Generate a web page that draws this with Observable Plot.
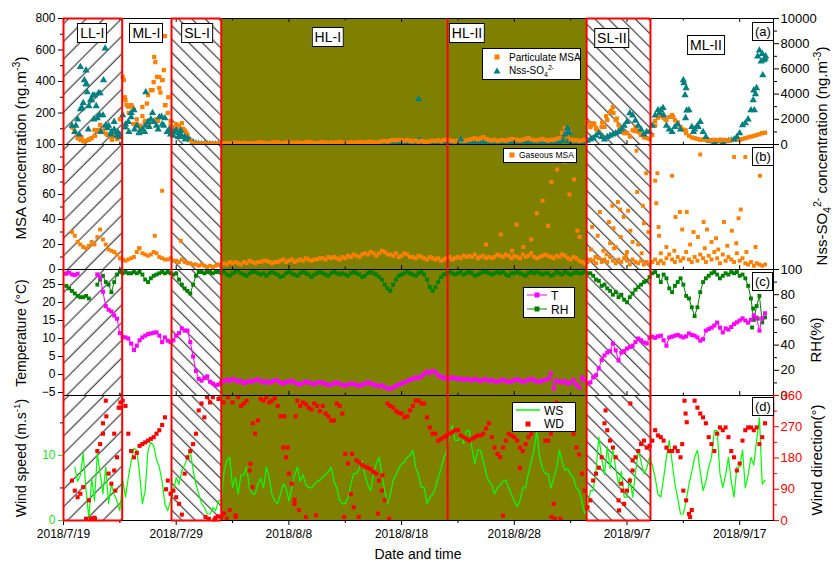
<!DOCTYPE html>
<html><head><meta charset="utf-8">
<script src="https://cdn.jsdelivr.net/npm/d3@7"></script>
<script src="https://cdn.jsdelivr.net/npm/@observablehq/plot@0.6"></script>
<style>
html,body{margin:0;padding:0;background:#fff;}
body{font-family:"Liberation Sans",Arial,Helvetica,sans-serif;color:#000;}
#chart{position:relative;width:833px;height:565px;overflow:hidden;background:#fff;}
.panel{position:absolute;left:0;}
.panel svg{overflow:visible;}
.tag{position:absolute;background:#fff;border:1px solid #000;font-size:14px;line-height:16px;padding:1px 2px;white-space:nowrap;transform:translateX(-50%);}
.ptag{position:absolute;background:#fff;border:1px solid #000;font-size:13px;line-height:15px;padding:1px 2px;}
.legend{position:absolute;background:#fff;border:1px solid #000;}
.legend .row{position:absolute;white-space:nowrap;line-height:1;}
.legend svg{position:absolute;}
.vt{position:absolute;white-space:nowrap;font-size:14px;transform:translate(-50%,-50%) rotate(-90deg);}
.xt{position:absolute;font-size:14px;transform:translateX(-50%);white-space:nowrap;}
sup,sub{font-size:70%;line-height:0;}
</style></head>
<body>
<svg width="0" height="0" style="position:absolute;left:0;top:0">
<defs>
<pattern id="hatchL" patternUnits="userSpaceOnUse" width="12.5" height="12.5" patternTransform="rotate(45)">
<rect width="12.5" height="12.5" fill="#fff"/>
<line x1="6" y1="0" x2="6" y2="12.5" stroke="#000" stroke-width="0.9"/>
</pattern>
<pattern id="hatchR" patternUnits="userSpaceOnUse" width="9.5" height="9.5" patternTransform="rotate(-45)">
<rect width="9.5" height="9.5" fill="#fff"/>
<line x1="4.5" y1="0" x2="4.5" y2="9.5" stroke="#000" stroke-width="0.9"/>
</pattern>
</defs></svg>
<div id="chart"></div>
<script>
// ---------------- DATA ----------------
const regions = [
  {name: "LL-I",  start: "2018-07-19T00:00Z", end: "2018-07-24T05:00Z", fill: "hatchL"},
  {name: "ML-I",  start: "2018-07-24T05:00Z", end: "2018-07-28T14:00Z", fill: null},
  {name: "SL-I",  start: "2018-07-28T14:00Z", end: "2018-08-02T00:00Z", fill: "hatchR"},
  {name: "HL-I",  start: "2018-08-02T00:00Z", end: "2018-08-22T02:00Z", fill: "olive"},
  {name: "HL-II", start: "2018-08-22T02:00Z", end: "2018-09-03T10:00Z", fill: "olive"},
  {name: "SL-II", start: "2018-09-03T10:00Z", end: "2018-09-09T02:00Z", fill: "hatchR"},
  {name: "ML-II", start: "2018-09-09T02:00Z", end: "2018-09-20T00:00Z", fill: null}
];
const xMajor = ["2018-07-19","2018-07-29","2018-08-08","2018-08-18","2018-08-28","2018-09-07","2018-09-17"];
const xMinor = ["2018-07-24","2018-08-03","2018-08-13","2018-08-23","2018-09-02","2018-09-12"];
const msaTicks = [200,400,600,800], msaMinor = [100,300,500,700];
const nssTicks = [0,2000,4000,6000,8000,10000], nssMinor = [1000,3000,5000,7000,9000];
const gmsaTicks = [0,20,40,60,80,100], gmsaMinor = [10,30,50,70,90];
const tTicks = [-5,0,5,10,15,20,25];
const rhTicks = [0,20,40,60,80,100], rhMinor = [10,30,50,70,90];
const wsTicks = [0,10], wsMinor = [5,15];
const wdTicks = [0,90,180,270,360], wdMinor = [45,135,225,315];

// Series sampled every 6 h from 2018-07-19 00:00 (one row = one day)
const pmsa = [
 [null,null,null,110],[80,40,30,20],[25,30,40,92],[92,124,90,70],[60,45,55,35],
 [160,430,280,240],[250,220,130,110],[238,150,313,345],[396,160,428,409],[250,200,120,110],
 [130,110,135,90],[60,28,10,6],[5,5,6,5],[5,4,5,5],[6,8,10,9],
 [10,12,11,9],[12,10,8,11],[9,12,14,11],[10,8,12,15],[13,10,9,12],
 [14,11,10,13],[12,10,14,16],[13,11,9,12],[15,12,10,14],[11,13,16,12],
 [10,12,14,11],[13,16,14,12],[15,18,14,12],[16,20,22,18],[24,28,26,30],
 [27,24,28,22],[20,25,18,22],[18,15,20,24],[22,26,20,28],[30,25,22,20],
 [24,28,22,26],[30,35,40,32],[38,47,35,28],[25,30,22,26],[28,24,30,35],
 [32,28,25,30],[35,40,32,28],[26,30,35,28],[25,30,28,35],[40,73,104,50],
 [30,25,28,22],[25,30,140,110],[135,105,80,112],[112,155,205,238],[155,125,80,72],
 [72,50,90,112],[80,60,45,40],[35,60,120,170],[187,170,155,175],[187,155,130,112],
 [95,72,55,45],[40,35,30,32],[30,28,25,30],[28,25,30,27],[25,28,30,32],
 [30,35,40,45],[50,55,60,65],[72,75,null,null]
];
const nss = [
 [null,null,null,1500],[1000,2000,2800,3300],[4780,3050,3520,3900],[2100,4070,2330,1500],[1500,1000,1200,700],
 [800,2330,1350,1800],[2170,2730,1500,1000],[1200,1500,1800,2000],[1800,1500,2170,1600],[2090,1000,800,700],
 [1150,900,700,600],[500,350,200,100],[60,50,40,30],[40,35,30,35],[40,50,60,50],
 [45,70,55,40],[60,50,80,60],[50,45,60,70],[60,70,50,45],[55,70,60,55],
 [50,45,60,70],[70,60,55,50],[60,70,80,60],[55,50,60,70],[70,60,55,60],
 [70,75,60,55],[55,60,70,65],[60,70,75,60],[70,80,65,60],[75,85,70,80],
 [90,80,100,85],[110,130,120,100],[90,100,80,70],[70,80,90,80],[100,110,130,110],
 [150,400,140,120],[110,300,120,110],[100,95,110,120],[110,100,120,130],[120,110,100,130],
 [140,125,115,110],[120,135,110,100],[115,130,145,125],[110,120,130,150],[170,300,800,250],
 [130,110,100,95],[200,300,300,400],[500,700,900,600],[400,600,700,800],[900,1000,1200,1500],
 [1800,2490,2300,1900],[1500,1200,800,1000],[1000,1500,2300,2730],[2730,2330,1500,1200],[1000,1400,1600,1200],
 [5100,4480,2730,1400],[1200,1500,1800,1000],[600,300,250,200],[250,300,200,250],[300,350,400,600],
 [900,1540,1700,2000],[2730,4300,4480,7470],[7200,6820,null,null]
];
const gmsa = [
 [null,null,null,30],[27,22,20,18],[17,19,22,20],[26,32,24,20],[16,15,14,12],
 [9,8,7,8],[9,10,14,17],[13,12,11,12],[14,13,10,9],[8,8,9,7],
 [7,6,8,6],[5,5,4,4],[3,4,3,2],[3,2,3,4],[4,5,4,6],
 [5,6,5,4],[6,5,7,6],[5,6,6,7],[7,6,5,6],[6,7,8,6],
 [7,8,6,7],[8,7,9,8],[7,8,8,9],[9,8,10,9],[10,9,8,10],
 [9,11,10,12],[11,10,12,13],[12,14,13,11],[13,15,14,12],[12,11,13,10],
 [11,13,12,10],[10,9,11,10],[9,8,10,9],[8,9,7,8],[9,10,8,9],
 [10,9,11,10],[11,10,12,9],[10,11,9,10],[9,10,12,11],[10,12,11,9],
 [11,10,9,12],[10,11,13,10],[9,10,11,12],[11,10,9,11],[10,12,11,9],
 [8,10,9,7],[6,5,6,8],[7,5,9,6],[8,6,10,7],[5,8,6,9],
 [7,4,8,6],[5,7,4,6],[4,6,8,5],[7,5,9,12],[8,6,10,7],
 [9,14,8,6],[10,7,12,9],[6,11,8,14],[9,5,12,7],[10,8,6,13],
 [7,9,5,4],[6,3,5,4],[3,4,null,null]
];
const temp = [
 [null,28,28.3,27.8],[27.6,28,null,null],[null,null,null,null],[27.8,27,23,19],[18,17.5,16.4,15.5],
 [11.5,10.4,10.3,10],[8.6,6.8,8,9.5],[10.3,10.8,11.2,11.4],[11.6,11.7,10.8,9],[10.3,9.4,9,9.5],
 [10.8,11.5,12.8,12.2],[12.2,9,5,1],[-1.2,-1.7,-1,-0.5],[-2,-2.5,-3,-2.8],[-2.2,-1.8,-1.5,-1.7],
 [-1.3,-1.6,-2,-1.8],[-2.4,-2.1,-1.8,-2],[-1.6,-1.4,-1.8,-2.2],[-1.9,-2.3,-2,-1.6],[-1.8,-2.2,-2.5,-2.1],
 [-2,-1.7,-2.2,-2.6],[-2.8,-2.4,-2,-2.2],[-2.5,-2.7,-2.3,-2.1],[-2.4,-2.6,-3,-2.8],[-2.5,-2.2,-2.6,-2.9],
 [-3.1,-2.8,-2.5,-2.7],[-2.9,-3.2,-2.8,-2.6],[-2.2,-2.5,-2.8,-3],[-3.3,-3,-3.5,-3.9],[-4,-3.6,-3.2,-2.8],
 [-2.5,-2.2,-1.8,-1.5],[-1.2,-0.8,-1,-0.5],[0.2,0.8,0.4,1],[0.6,-0.2,-0.6,-1],[-0.8,-1.2,-0.8,-1],
 [-1.3,-1.1,-1.5,-1.2],[-1.4,-1.6,-1.2,-1.5],[-1.8,-1.5,-1.3,-1.7],[-1.6,-1.9,-2,-1.7],[-1.5,-1.8,-2.1,-1.9],
 [-1.6,-1.3,-1.7,-2],[-1.8,-1.5,-1.2,-1.6],[-1.9,-2.1,-1.7,-1.5],[-1.2,0.3,-3.9,-1.7],[-2,-2.2,-1.8,-2.5],
 [-2.3,-1.5,-2.8,-3.6],[-0.8,-1.5,-2.5,-2.2],[-0.8,-0.2,1.7,4],[5.3,6.1,6.5,8.6],[6.7,3.9,6.1,6.5],
 [7.2,7.6,8,9],[10,9.5,8.9,8.6],[10.3,10.5,10.2,10.6],[10.8,9.5,8,10.3],[10.5,10.8,11,10.6],
 [10.3,10.6,11.4,11],[10.8,10.3,9.4,9.8],[12.2,12.6,13,13.6],[14.4,13,11.7,12.8],[12.5,13.2,14,14.5],
 [15,15.6,15,14.4],[15.2,16.4,15.8,12.2],[15.6,17,null,null]
];
const rh = [
 [null,87,85,83],[81,79,78,78],[79,77,null,null],[88,92,95,90],[88,82,90,96],
 [98,97,98,97],[97,98,97,98],[96,92,90,93],[95,96,97,98],[97,98,97,96],
 [97,92,88,85],[83,81,88,95],[98,98,97,98],[98,97,98,98],[97,98,96,95],
 [97,98,99,97],[96,95,97,98],[98,97,96,97],[95,97,98,97],[96,94,95,97],
 [98,97,96,95],[97,98,97,96],[94,96,97,98],[97,96,95,97],[98,97,96,97],
 [96,95,97,98],[97,96,94,95],[97,98,97,96],[94,92,88,85],[83,88,92,95],
 [96,97,98,97],[96,95,97,98],[96,92,86,83],[86,90,94,96],[97,98,97,96],
 [97,98,96,97],[98,97,95,96],[97,98,98,97],[96,97,98,97],[98,96,95,97],
 [97,98,97,96],[95,97,98,97],[98,97,96,97],[97,95,96,98],[97,96,98,97],
 [96,97,98,97],[97,98,97,97],[95,92,91,87],[88,85,83,80],[82,78,80,76],
 [74,78,81,84],[86,88,90,91],[94,97,98,95],[90,96,93,85],[82,87,90,93],
 [88,79,77,70],[63,70,82,90],[93,95,97,98],[96,93,95,97],[96,98,97,98],
 [95,96,93,87],[77,60,71,79],[58,62,null,null]
];
const ws = [
 [null,null,null,null],[8.2,6,7,10.3],[4.6,0.3,6.5,3],[10.3,7.2,4.1,8.2],[2.6,5.6,4,3],
 [1.5,6.2,3.6,6.6],[9,11.1,10.8,7.2],[2.6,4.6,10.8,12],[11.5,9.4,8.2,6],[2.5,1.5,3,4.6],
 [6.6,5.5,7.7,8.5],[9.7,10.8,7.7,5.6],[4.1,2.6,2,1],[1,2,1.5,3],[3,7.5,9.2,9.7],
 [5.1,6.6,4.1,7],[7,8.2,5,4.1],[4.1,5.6,6.5,5],[8.2,6.5,4,3],[2.6,4,5.6,5],
 [3,5,7,8.2],[6,7,5.5,5.1],[5,5.5,6,6.2],[6.6,7,7.5,8.2],[6,5,3.1,2.6],
 [2.6,3.5,5.6,7.2],[7.2,8,9.2,7],[5.5,4.6,7,8.7],[9.7,7,4.6,2.6],[4,6.2,7,8],
 [8.7,9,9.7,10],[10.8,8.2,7,5.1],[5.1,2.6,3.5,4],[5,6.6,8,9.7],[10.5,13.3,14.6,12.3],
 [12.3,13.3,11.8,13.8],[13.8,11,8.7,10.8],[10.8,9,7.2,6],[5.5,4.1,5,5.5],[6,6.2,5,4],
 [3,2.1,3,5],[5,7.2,9,10.8],[13.8,9.7,8,7.2],[7.2,5,6.5,8],[10.8,9,7.7,8],
 [7,6.5,5,4.6],[3,1,2,4.6],[4.6,7.7,12.8,9.7],[7,11.3,8,10.8],[8,5.6,7.5,3.6],
 [3.6,6.6,3.6,7.2],[10.8,9,7.2,8],[9.7,8.5,6.6,4],[3.6,6.5,9.7,12.3],[9,5.6,3.5,1],
 [1,3,5.6,7.5],[9.7,10.8,7.5,4.6],[6,8.2,9.7,13.8],[13.8,7.2,5.1,7],[9.7,6,3.6,8.2],
 [8.2,10.8,5,7],[9.7,8.5,12.3,15.8],[5.6,6.2,null,null]
];
const wd = [
 [null,null,null,115],[86,67,77,96],[5,58,5,8],[200,220,280,345],[135,106,144,182],
 [325,345,330,250],[200,182,195,215],[220,225,230,235],[240,250,260,275],[297,115,77,86],
 [67,48,17,135],[182,200,220,250],[317,337,297,355],[340,355,8,350],[10,20,5,30],
 [340,15,355,330],[337,345,144,96],[250,288,350,345],[355,340,345,352],[330,300,210,182],
 [135,106,48,345],[330,340,335,325],[320,337,330,315],[330,308,300,288],[288,337,330,308],
 [192,164,76,38],[173,167,160,155],[152,148,140,135],[115,86,58,337],[330,325,315,310],
 [308,297,300,317],[330,345,345,337],[337,297,268,250],[250,230,235,240],[245,250,255,260],
 [260,245,240,235],[230,235,240,245],[245,250,265,280],[240,210,192,182],[210,230,250,245],
 [240,230,210,200],[220,240,250,260],[268,275,280,230],[230,250,48,340],[317,297,325,300],
 [288,250,210,190],[135,86,38,58],[115,135,152,182],[280,260,230,210],[182,58,106,48],
 [86,115,144,182],[200,220,230,210],[215,230,260,245],[240,230,210,200],[200,210,200,182],
 [86,58,19,30],[345,325,308,297],[280,240,220,200],[250,268,260,268],[240,200,182,144],
 [164,230,260,268],[268,260,268,220],[240,280,null,null]
];
// additional individual readings: [days after 2018-07-19 00:00, value]
const pmsaExtra = [[0.9,105],[1.2,60],[1.6,45],[2.3,35],[2.8,55],[3.2,85],[3.9,60],[4.3,30],[4.8,40],
 [5.35,410],[5.45,300],[5.6,250],[5.8,200],[6.1,240],[6.5,160],[6.8,120],[7.0,180],[7.4,260],[7.9,345],
 [8.05,555],[8.15,523],[8.3,430],[8.5,358],[8.6,330],[8.8,409],[8.9,472],[9.0,688],[9.05,250],[9.3,300],
 [7.2,140],[7.6,120],[8.4,150],[6.2,130],[9.5,150],[10.2,120],[10.6,100],[10.9,75],[9.8,100],
 [44.6,90],[44.9,80],[46.8,120],[47.1,130],[47.3,95],[47.8,140],[48.15,180],[48.6,215],[48.8,200],
 [49.1,165],[49.35,100],[50.7,85],[51.2,70],[51.6,50],[52.5,150],[52.9,180],[53.4,160],[54.1,175],[54.5,140],[55.2,90]];
const nssExtra = [[1.5,6150],[1.65,2880],[1.85,5100],[2.0,5890],[2.05,4780],[2.1,4150],[2.4,3520],[2.6,3900],
 [2.9,3050],[3.1,4070],[3.2,2330],[3.55,5100],[3.7,7630],[1.1,1500],[1.4,800],[2.2,1200],[2.7,2000],[3.3,1000],
 [3.9,1300],[4.2,800],[4.5,1800],[4.8,1000],[5.0,600],[5.5,1600],[5.8,1000],[6.0,2500],[6.3,1200],[6.7,900],
 [7.3,4150],[7.2,1000],[7.6,1400],[7.9,2500],[8.4,1200],[8.7,2200],[8.9,1500],[9.2,1000],[9.4,1200],
 [9.8,1000],[10.2,600],[10.4,1100],[10.8,400],[31.5,3590],[31.4,300],[31.6,350],
 [44.7,1300],[44.8,1000],[44.9,900],[55.05,4860],[55.15,3910],[55.2,2100],[55.3,2700],[53.2,2900],
 [52.9,2500],[55.9,1000],[56.3,1400],[61.2,3520],[61.3,2730],[61.4,4000],[61.6,7000],[61.9,6600],
 [62.05,5500],[62.3,7000],[62.15,6700]];
const gmsaExtra = [[8.75,63],[8.1,27],[10.4,23],[6.7,17],
 [37.5,20],[38.8,28],[40.2,36],[41.5,24],[42.0,45],[42.5,55],[43.0,35],[43.3,70],[43.8,80],[44.5,86],
 [44.9,60],[45.3,72],[45.6,31],[45.8,26],[40.8,18],[39.8,15],
 [50.84,95],[51.7,77],[50.9,62],[49.2,54],[48.7,51],[49.4,48],[50.1,47],[51.4,51],[47.6,46],[49.7,42],
 [48.4,38],[51.5,37],[46.9,34],[48.8,33],[50.3,31],[51.9,30],[47.4,27],[49.45,26],[50.5,22],[48.5,21],
 [48.85,17],[46.8,16],[47.9,15],[49.0,18],[50.0,14],[51.0,20],[48.2,12],[47.2,10],[49.9,11],[51.3,13],
 [52.7,77],[52.5,71],[54.0,75],[56.5,92],[59.5,90],[60.5,90],[61.8,75],[52.6,53],[54.7,46],[55.3,46],
 [54.3,42],[54.9,32],[55.9,30],[56.8,38],[57.1,32],[58.6,38],[59.3,31],[60.1,48],[59.9,41],[56.3,26],
 [52.8,34],[52.85,27],[53.5,18],[54.2,15],[55.6,20],[56.9,17],[57.5,22],[58.1,16],[58.9,19],[60.6,14],
 [61.4,18],[53.0,13],[57.9,25],[59.7,21]];
const rhExtra = [[61.1,54],[61.2,69],[61.6,61]];
const wdExtra = [[2.4,5],[2.6,6],[2.8,4],[3.5,250],[3.8,300],[4.6,86],[4.5,250],[4.9,325],[5.05,340],[9.1,90],
 [12.6,10],[12.9,5],[13.4,3],[13.7,12],[14.2,340],[14.6,355],[15.3,10],[16.8,280],[16.6,163],[19.6,300],
 [19.9,210],[20.6,300],[20.5,60],[20.9,30],[21.5,10],[22.4,15],[24.9,10],[25.6,192],[26.2,10],[27.9,20],
 [28.3,130],[28.9,5],[39.0,14],[40.5,152],[43.3,10],[43.6,5],[44.1,5],[48.1,317],[49.3,29],[49.6,86],
 [50.3,337],[50.5,173],[55.1,345],[55.2,308],[55.3,283],[54.9,220],[55.6,10]];

// ---------------- HELPERS ----------------
const ORANGE="#ff8000", TEAL="#008080", MAGENTA="#ff00ff", DKGREEN="#008000", LIME="#00ff00", RED="#ff0000", OLIVE="#808000";
const DAY = 864e5, T0 = Date.UTC(2018, 6, 19), STEP = 0.25;
const dateAt = d => new Date(T0 + d * DAY);
const pts = rows => rows.flat().map((v, i) => ({date: dateAt(i * STEP), v})).filter(o => o.v != null);
const linePts = rows => rows.flat().map((v, i) => ({date: dateAt(i * STEP), v: v == null ? NaN : v}));
const extra = pairs => pairs.map(([d, v]) => ({date: dateAt(d), v}));
const toD = s => new Date(s.length === 10 ? s + "T00:00Z" : s);
const fmtDate = d => `${d.getUTCFullYear()}/${d.getUTCMonth() + 1}/${d.getUTCDate()}`;
const regionRows = regions.map(r => ({...r, start: toD(r.start), end: toD(r.end)}));
const hatched = regionRows.filter(r => r.fill && r.fill.startsWith("hatch"));
const majorDates = xMajor.map(toD), minorDates = xMinor.map(toD);
const xDomain = [dateAt(0), dateAt(63)];

function common(height, mb) {
  return {
    width: 833, height, marginLeft: 63, marginRight: 60, marginTop: 10, marginBottom: mb,
    x: {type: "utc", domain: xDomain},
    style: {background: "transparent", overflow: "visible", fontFamily: '"Liberation Sans", Arial, sans-serif', fontSize: "12px", color: "#000"}
  };
}
function backdrop(lo, hi) {
  return [
    Plot.rect(regionRows.filter(r => r.fill === "olive"), {x1: "start", x2: "end", y1: lo, y2: hi, fill: OLIVE}),
    Plot.rect(regionRows.filter(r => r.fill === "hatchL"), {x1: "start", x2: "end", y1: lo, y2: hi, fill: "url(#hatchL)"}),
    Plot.rect(regionRows.filter(r => r.fill === "hatchR"), {x1: "start", x2: "end", y1: lo, y2: hi, fill: "url(#hatchR)"})
  ];
}
function borders(lo, hi, top, bottom) {
  const m = [Plot.ruleX(regionRows.map(r => r.start), {stroke: RED, strokeWidth: 2})];
  if (top) m.push(Plot.ruleY(hatched, {y: hi, x1: "start", x2: "end", stroke: RED, strokeWidth: 2}));
  if (bottom) m.push(Plot.ruleY(hatched, {y: lo, x1: "start", x2: "end", stroke: RED, strokeWidth: 2}));
  return m;
}
function innerTicks(lo, len) {
  return [
    Plot.ruleX(majorDates, {y1: lo, y2: lo + len, stroke: "#000"}),
    Plot.ruleX(minorDates, {y1: lo, y2: lo + len * 0.6, stroke: "#000"})
  ];
}
const chart = document.getElementById("chart");
function mount(plot, top) {
  const w = document.createElement("div");
  w.className = "panel"; w.style.top = top + "px";
  w.appendChild(plot); chart.appendChild(w);
  return plot;
}

// ---------------- PANEL (a) ----------------
const kN = 800 / 10000;
const plotA = mount(Plot.plot({
  ...common(146, 10),
  x: {type: "utc", domain: xDomain, axis: null},
  y: {domain: [0, 800]},
  marks: [
    ...backdrop(0, 800),
    Plot.dot(pts(nss).concat(extra(nssExtra)).filter(d => d.v < 400), {x: "date", y: d => d.v * kN, symbol: "triangle", r: 2.5, fill: TEAL}),
    Plot.dot(pts(pmsa).concat(extra(pmsaExtra)), {x: "date", y: "v", symbol: "square", r: 2.4, fill: ORANGE}),
    Plot.dot(pts(nss).concat(extra(nssExtra)).filter(d => d.v >= 400), {x: "date", y: d => d.v * kN, symbol: "triangle", r: 2.7, fill: TEAL}),
    Plot.frame({stroke: "#000"}),
    Plot.ruleX(majorDates, {y1: 800, y2: 775, stroke: "#000"}),
    Plot.ruleX(minorDates, {y1: 800, y2: 785, stroke: "#000"}),
    ...innerTicks(0, 25),
    Plot.axisY({anchor: "left", ticks: msaTicks, tickSize: 5, tickPadding: 3, label: null}),
    Plot.axisY({anchor: "left", ticks: msaMinor, tickSize: 3, tickFormat: () => "", label: null}),
    Plot.axisY({anchor: "right", ticks: nssTicks.map(v => v * kN), tickFormat: d => String(Math.round(d / kN)), tickSize: 5, tickPadding: 2, fontSize: 13, label: null}),
    Plot.axisY({anchor: "right", ticks: nssMinor.map(v => v * kN), tickSize: 3, tickFormat: () => "", label: null}),
    ...borders(0, 800, true, false)
  ]
}), 8);

// ---------------- PANEL (b) ----------------
const plotB = mount(Plot.plot({
  ...common(145, 10),
  x: {type: "utc", domain: xDomain, axis: null},
  y: {domain: [0, 100]},
  marks: [
    ...backdrop(0, 100),
    Plot.dot(pts(gmsa).concat(extra(gmsaExtra)), {x: "date", y: "v", symbol: "square", r: 2.2, fill: ORANGE}),
    Plot.frame({stroke: "#000"}),
    ...innerTicks(0, 3.2),
    Plot.axisY({anchor: "left", ticks: gmsaTicks, tickSize: 5, tickPadding: 3, label: null}),
    Plot.axisY({anchor: "left", ticks: gmsaMinor, tickSize: 3, tickFormat: () => "", label: null}),
    ...borders(0, 100, false, false)
  ]
}), 134);

// ---------------- PANEL (c) ----------------
const T_LO = -5.833, T_HI = 29.167, kRH = (T_HI - T_LO) / 100;
const rhY = v => T_LO + v * kRH;
const plotC = mount(Plot.plot({
  ...common(146, 10),
  x: {type: "utc", domain: xDomain, axis: null},
  y: {domain: [T_LO, T_HI]},
  marks: [
    ...backdrop(T_LO, T_HI),
    Plot.line(linePts(rh), {x: "date", y: d => rhY(d.v), stroke: DKGREEN, strokeWidth: 1}),
    Plot.dot(pts(rh).concat(extra(rhExtra)), {x: "date", y: d => rhY(d.v), symbol: "square", r: 2.2, fill: DKGREEN}),
    Plot.line(linePts(temp), {x: "date", y: "v", stroke: MAGENTA, strokeWidth: 1}),
    Plot.dot(pts(temp), {x: "date", y: "v", symbol: "square", r: 2.3, fill: MAGENTA}),
    Plot.frame({stroke: "#000"}),
    ...innerTicks(T_LO, 1.1),
    Plot.axisY({anchor: "left", ticks: tTicks, tickSize: 5, tickPadding: 3, label: null}),
    Plot.axisY({anchor: "right", ticks: rhTicks.map(rhY), tickFormat: d => String(Math.round((d - T_LO) / kRH)), tickSize: 5, tickPadding: 2, fontSize: 13, label: null}),
    Plot.axisY({anchor: "right", ticks: rhMinor.map(rhY), tickSize: 3, tickFormat: () => "", label: null}),
    ...borders(T_LO, T_HI, false, false)
  ]
}), 259);

// ---------------- PANEL (d) ----------------
const WS_HI = 19.2, kWD = WS_HI / 360;
const plotD = mount(Plot.plot({
  ...common(180, 45),
  y: {domain: [0, WS_HI]},
  marks: [
    ...backdrop(0, WS_HI),
    Plot.line(linePts(ws), {x: "date", y: "v", stroke: LIME, strokeWidth: 1.2}),
    Plot.dot(pts(wd).concat(extra(wdExtra)), {x: "date", y: d => d.v * kWD, symbol: "square", r: 2.3, fill: RED}),
    Plot.frame({stroke: "#000"}),
    Plot.ruleX([xDomain[1]], {stroke: RED, strokeWidth: 1.5}),
    Plot.axisY({anchor: "left", ticks: wsTicks, tickSize: 5, tickPadding: 3, color: "#22dd22", label: null}),
    Plot.axisY({anchor: "left", ticks: wsMinor, tickSize: 3, tickFormat: () => "", label: null}),
    Plot.axisY({anchor: "right", ticks: wdTicks.map(v => v * kWD), tickFormat: d => String(Math.round(d / kWD)), tickSize: 5, tickPadding: 2, fontSize: 13, color: RED, label: null}),
    Plot.axisY({anchor: "right", ticks: wdMinor.map(v => v * kWD), tickSize: 3, tickFormat: () => "", color: RED, label: null}),
    Plot.axisX({anchor: "bottom", ticks: majorDates, tickFormat: fmtDate, tickSize: 5, tickPadding: 4, label: null}),
    Plot.axisX({anchor: "bottom", ticks: minorDates, tickSize: 3, tickFormat: () => "", label: null}),
    ...borders(0, WS_HI, false, true)
  ]
}), 385);

// ---------------- ANNOTATIONS ----------------
const xs = plotA.scale("x");
const labelLayout = {"LL-I": [2.6, 23], "ML-I": [7.4, 23], "SL-I": [11.9, 23], "HL-I": [23.5, 27],
                     "HL-II": [35.85, 23], "SL-II": [48.7, 28], "ML-II": [57.05, 35]};
function addHTML(html) { const t = document.createElement("template"); t.innerHTML = html.trim(); const el = t.content.firstChild; chart.appendChild(el); return el; }
regions.forEach(r => {
  const [d, top] = labelLayout[r.name];
  addHTML(`<div class="tag" style="left:${xs.apply(dateAt(d))}px;top:${top}px">${r.name}</div>`);
});
[["(a)", 22], ["(b)", 147], ["(c)", 272], ["(d)", 397]].forEach(([t, top]) =>
  addHTML(`<div class="ptag" style="left:752px;top:${top}px">${t}</div>`));

addHTML(`<div class="legend" style="left:482px;top:48px;width:97px;height:30px;font-size:10px">
  <svg style="left:9px;top:3px" width="10" height="10"><rect x="2.5" y="2.5" width="5" height="5" fill="${ORANGE}"/></svg>
  <div class="row" style="left:26px;top:4px">Particulate MSA</div>
  <svg style="left:9px;top:17px" width="10" height="10"><path d="M5,1.5L8.5,7.5H1.5Z" fill="${TEAL}"/></svg>
  <div class="row" style="left:26px;top:17px">Nss-SO<sub>4</sub><sup>2-</sup></div></div>`);
addHTML(`<div class="legend" style="left:503px;top:148px;width:72px;height:13px;font-size:8.5px">
  <svg style="left:3px;top:1px" width="10" height="10"><rect x="2.5" y="2.5" width="5" height="5" fill="${ORANGE}"/></svg>
  <div class="row" style="left:15px;top:2px">Gaseous MSA</div></div>`);
addHTML(`<div class="legend" style="left:523px;top:287px;width:50px;height:29px;font-size:12px">
  <svg style="left:3px;top:2px" width="20" height="10"><line x1="0" y1="5" x2="20" y2="5" stroke="${MAGENTA}"/><rect x="7.5" y="2.5" width="5" height="5" fill="${MAGENTA}"/></svg>
  <div class="row" style="left:27px;top:2px">T</div>
  <svg style="left:3px;top:16px" width="20" height="10"><line x1="0" y1="5" x2="20" y2="5" stroke="${DKGREEN}"/><rect x="7.5" y="2.5" width="5" height="5" fill="${DKGREEN}"/></svg>
  <div class="row" style="left:27px;top:16px">RH</div></div>`);
addHTML(`<div class="legend" style="left:512px;top:402px;width:62px;height:28px;font-size:12px">
  <svg style="left:3px;top:2px" width="24" height="10"><line x1="0" y1="5" x2="24" y2="5" stroke="${LIME}" stroke-width="1.5"/></svg>
  <div class="row" style="left:31px;top:2px">WS</div>
  <svg style="left:10px;top:16px" width="10" height="10"><rect x="2.5" y="2.5" width="5" height="5" fill="${RED}"/></svg>
  <div class="row" style="left:31px;top:15px">WD</div></div>`);

addHTML(`<div class="vt" style="left:20px;top:148px;font-size:15px">MSA concentration (ng.m<sup>-3</sup>)</div>`);
addHTML(`<div class="vt" style="left:21px;top:333px;font-size:14px">Temperature (°C)</div>`);
addHTML(`<div class="vt" style="left:21px;top:458px;font-size:14px">Wind speed (m.s<sup>-1</sup>)</div>`);
addHTML(`<div class="vt" style="left:821px;top:156px;font-size:15px">Nss-SO<sub>4</sub><sup>2-</sup> concentration (ng.m<sup>-3</sup>)</div>`);
addHTML(`<div class="vt" style="left:815px;top:340px;font-size:15px">RH(%)</div>`);
addHTML(`<div class="vt" style="left:816px;top:460px;font-size:15px">Wind direction(°)</div>`);
addHTML(`<div class="xt" style="left:418px;top:546px">Date and time</div>`);
</script>
</body></html>
